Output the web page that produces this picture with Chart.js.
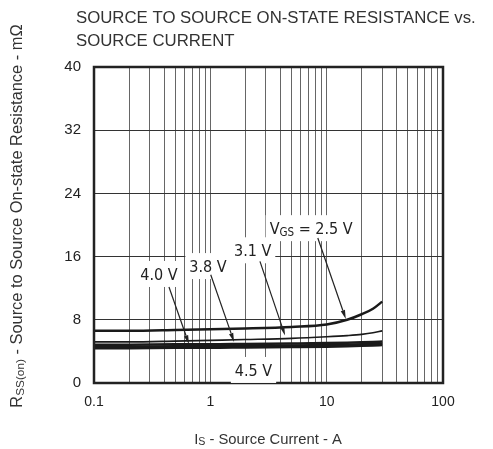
<!DOCTYPE html>
<html>
<head>
<meta charset="utf-8">
<script src="https://cdn.jsdelivr.net/npm/chart.js@4"></script>
<style>
  html, body { margin: 0; padding: 0; background: #fff; }
  canvas { display: block; }
</style>
</head>
<body>
<canvas id="rssChart" width="493" height="449"></canvas>
<script>
// Source current (A) sample points
const currents = [0.1, 0.2, 0.5, 1, 2, 5, 10, 15, 20, 25, 30];

// Rss(on) in mOhm for each gate voltage
const vgs25 = [6.6, 6.6, 6.7, 6.8, 6.9, 7.1, 7.4, 8.0, 8.7, 9.4, 10.3];
const vgs31 = [5.2, 5.2, 5.3, 5.4, 5.5, 5.65, 5.85, 6.0, 6.15, 6.35, 6.6];
const vgs38 = [4.85, 4.85, 4.9, 4.9, 4.95, 5.0, 5.05, 5.1, 5.15, 5.2, 5.25];
const vgs40 = [4.6, 4.6, 4.65, 4.65, 4.7, 4.75, 4.8, 4.85, 4.9, 4.95, 5.0];
const vgs45 = [4.4, 4.4, 4.45, 4.45, 4.5, 4.55, 4.6, 4.65, 4.7, 4.75, 4.8];

// Axis labels
const xTickLabels = ['0.1', '1', '10', '100'];
const yTickLabels = ['0', '8', '16', '24', '32', '40'];

// Curve callouts, placed in data coordinates (current, resistance)
const callouts = [
  { parts: [['V', 0], ['GS', 1], [' = 2.5 V', 0]], at: [7.35, 19.6], from: [8.39, 18.35], to: [14.6, 8.1] },
  { parts: [['3.1 V', 0]], at: [2.31, 16.8], from: [2.67, 15.4], to: [4.39, 6.0] },
  { parts: [['3.8 V', 0]], at: [0.955, 14.8], from: [1.008, 13.7], to: [1.6, 5.2] },
  { parts: [['4.0 V', 0]], at: [0.362, 13.8], from: [0.441, 12.15], to: [0.656, 4.9] },
  { parts: [['4.5 V', 0]], at: [2.35, 1.65] }
];

// every 1-2-...-9 value per decade for the log grid
const xGrid = [];
for (let d = 0.1; d < 100; d *= 10) {
  for (let m = 1; m < 10; m++) xGrid.push(+(m * d).toPrecision(3));
}
xGrid.push(100);

const FONT = '"Liberation Sans", Arial, sans-serif';
const NARROW = '"Liberation Sans Narrow", "DejaVu Sans Condensed", sans-serif';

function series(values, width) {
  return {
    data: currents.map((x, i) => ({ x: x, y: values[i] })),
    borderColor: '#1a1a1a',
    borderWidth: width,
    pointRadius: 0,
    cubicInterpolationMode: 'monotone',
    fill: false
  };
}

// text with subscripts; parts = [[text, isSub], ...]
function richWidth(ctx, parts, size, family) {
  let w = 0;
  parts.forEach(([t, sub]) => {
    ctx.font = (sub ? size * 0.72 : size) + 'px ' + family;
    w += ctx.measureText(t).width;
  });
  return w;
}

function drawRich(ctx, parts, x, y, size, family) {
  let cx = x;
  ctx.textAlign = 'left';
  ctx.textBaseline = 'alphabetic';
  parts.forEach(([t, sub]) => {
    ctx.font = (sub ? size * 0.72 : size) + 'px ' + family;
    ctx.fillText(t, cx, y + (sub ? size * 0.1 : 0));
    cx += ctx.measureText(t).width;
  });
}

const decorations = {
  id: 'decorations',
  afterDatasetsDraw(chart) {
    const ctx = chart.ctx;
    const xs = chart.scales.x, ys = chart.scales.y;
    const area = chart.chartArea;
    const px = p => [xs.getPixelForValue(p[0]), ys.getPixelForValue(p[1])];

    ctx.save();

    // frame
    ctx.strokeStyle = '#222';
    ctx.lineWidth = 2.5;
    ctx.strokeRect(area.left, area.top, area.right - area.left, area.bottom - area.top);

    // callouts
    callouts.forEach(c => {
      const size = 16;
      const w = richWidth(ctx, c.parts, size, NARROW);
      const [cx, cy] = px(c.at);
      ctx.fillStyle = '#fff';
      ctx.fillRect(cx - w / 2 - 4, cy - 13, w + 8, 26);
      ctx.fillStyle = '#222';
      drawRich(ctx, c.parts, cx - w / 2, cy + 6, size, NARROW);

      if (c.to) {
        const [x0, y0] = px(c.from);
        const [x1, y1] = px(c.to);
        const ang = Math.atan2(y1 - y0, x1 - x0);
        const len = 9, half = 2.2;
        const bx = x1 - len * Math.cos(ang), by = y1 - len * Math.sin(ang);
        ctx.strokeStyle = '#222';
        ctx.lineWidth = 1.2;
        ctx.beginPath();
        ctx.moveTo(x0, y0);
        ctx.lineTo(bx, by);
        ctx.stroke();
        ctx.fillStyle = '#222';
        ctx.beginPath();
        ctx.moveTo(x1, y1);
        ctx.lineTo(bx + half * Math.sin(ang), by - half * Math.cos(ang));
        ctx.lineTo(bx - half * Math.sin(ang), by + half * Math.cos(ang));
        ctx.closePath();
        ctx.fill();
      }
    });

    // title
    ctx.fillStyle = '#333';
    ctx.font = '16.8px ' + FONT;
    ctx.textAlign = 'left';
    ctx.textBaseline = 'alphabetic';
    ctx.fillText('SOURCE TO SOURCE ON-STATE RESISTANCE vs.', 76, 23);
    ctx.fillText('SOURCE CURRENT', 76, 46);

    // x axis title
    const xParts = [['I', 0], ['S', 1], [' - Source Current - A', 0]];
    const xw = richWidth(ctx, xParts, 14.8, FONT);
    drawRich(ctx, xParts, 268 - xw / 2, 444, 14.8, FONT);

    // y axis title
    const yParts = [['R', 0], ['SS(on)', 1], [' - Source to Source On-state Resistance - m\u03A9', 0]];
    const yw = richWidth(ctx, yParts, 16.4, FONT);
    ctx.translate(22, 216);
    ctx.rotate(-Math.PI / 2);
    drawRich(ctx, yParts, -yw / 2, 0, 16.4, FONT);

    ctx.restore();
  }
};

new Chart(document.getElementById('rssChart').getContext('2d'), {
  type: 'line',
  data: {
    datasets: [
      series(vgs25, 2.5),
      series(vgs31, 1.6),
      series(vgs38, 2.5),
      series(vgs40, 2.5),
      series(vgs45, 2.5)
    ]
  },
  options: {
    responsive: false,
    devicePixelRatio: 1,
    animation: false,
    layout: { padding: { left: 0, top: 67, right: 50, bottom: 0 } },
    plugins: {
      legend: { display: false },
      tooltip: { enabled: false }
    },
    scales: {
      x: {
        type: 'logarithmic',
        min: 0.1,
        max: 100,
        afterBuildTicks: s => { s.ticks = xGrid.map(v => ({ value: v })); },
        afterFit: s => { s.height = 66; },
        border: { display: false },
        grid: { color: '#666', lineWidth: 1, drawTicks: false },
        ticks: {
          autoSkip: false,
          maxRotation: 0,
          padding: 11,
          color: '#222',
          font: { family: FONT, size: 14 },
          callback: v => {
            const s = String(+Number(v).toPrecision(3));
            return xTickLabels.includes(s) ? s : '';
          }
        }
      },
      y: {
        min: 0,
        max: 40,
        afterBuildTicks: s => { s.ticks = yTickLabels.map(t => ({ value: +t })); },
        afterFit: s => { s.width = 94; },
        border: { display: false },
        grid: { color: '#333', lineWidth: 1, drawTicks: false },
        ticks: {
          padding: 13,
          color: '#222',
          font: { family: FONT, size: 15 },
          callback: v => String(v)
        }
      }
    }
  },
  plugins: [decorations]
});
</script>
</body>
</html>
